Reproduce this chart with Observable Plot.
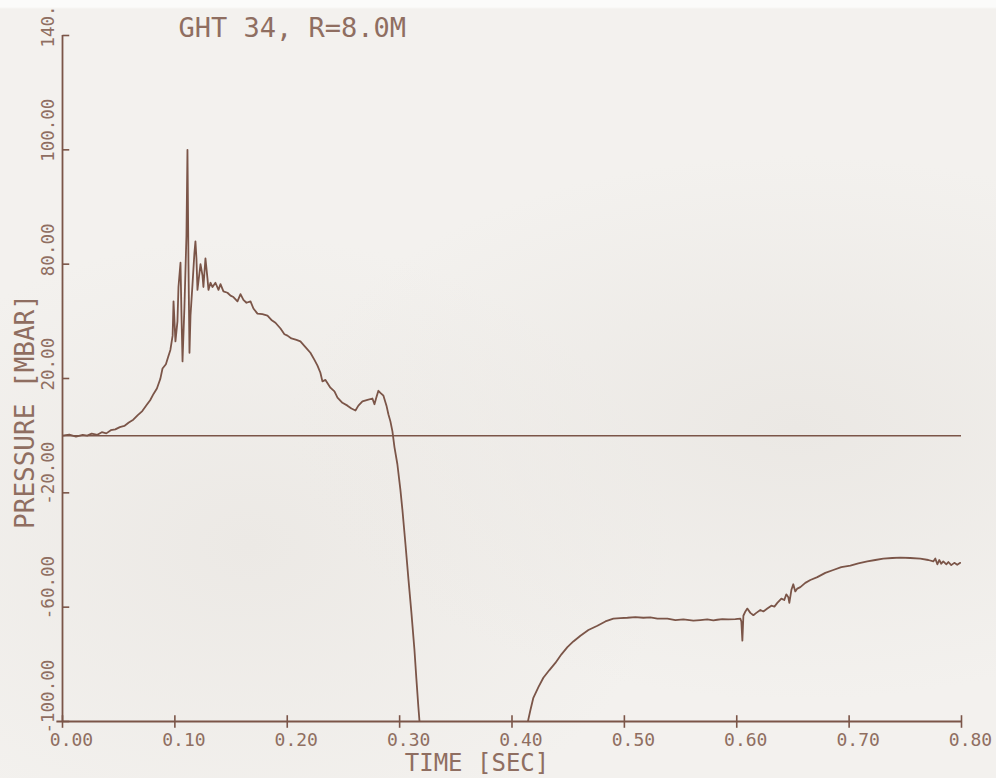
<!DOCTYPE html>
<html>
<head>
<meta charset="utf-8">
<script src="https://cdn.jsdelivr.net/npm/d3@7"></script>
<script src="https://cdn.jsdelivr.net/npm/@observablehq/plot@0.6"></script>
<style>
  html, body { margin: 0; padding: 0; }
  body {
    width: 996px; height: 778px; overflow: hidden;
    background:
      linear-gradient(#fbfbfa 0, #fbfbfa 7px, transparent 9px),
      radial-gradient(ellipse at 80% 55%, #ebe8e4 0%, rgba(235,232,228,0) 45%),
      radial-gradient(ellipse at 25% 70%, #ece9e5 0%, rgba(236,233,229,0) 40%),
      #f3f1ee;
  }
  #chart { position: absolute; left: 0; top: 0; }
</style>
</head>
<body>
<div id="chart"></div>
<script>
// Pressure record, gauge GHT 34 at R = 8.0 m
const title = "GHT 34, R=8.0M";
const xTitle = "TIME [SEC]";
const yTitle = "PRESSURE [MBAR]";

const xTicks = [0, 0.1, 0.2, 0.3, 0.4, 0.5, 0.6, 0.7, 0.8];
const xLabels = ["0.00", "0.10", "0.20", "0.30", "0.40", "0.50", "0.60", "0.70", "0.80"];
const yTicks = [-100, -60, -20, 20, 60, 100, 140];
const yLabels = ["-100.00", "-60.00", "-20.00", "20.00", "80.00", "100.00", "140."];

// time [s]
const timeSec = [
  0.000, 0.006, 0.012, 0.018, 0.022, 0.026, 0.031, 0.035, 0.039, 0.043,
  0.047, 0.051, 0.055, 0.059, 0.063, 0.067, 0.071, 0.075, 0.078, 0.081,
  0.084, 0.087, 0.089, 0.092, 0.094, 0.096, 0.098, 0.0988, 0.1005, 0.1023,
  0.1032, 0.1050, 0.1059, 0.1068, 0.1085, 0.1103, 0.1112, 0.1121, 0.1130, 0.1139,
  0.1157, 0.1174, 0.1183, 0.1192, 0.1201, 0.1219, 0.1228, 0.1246, 0.1254, 0.1272,
  0.1290, 0.1299, 0.1317, 0.1335, 0.1361, 0.1388, 0.1406, 0.1432, 0.1468, 0.1495,
  0.1521, 0.1557, 0.1584, 0.1610, 0.1637, 0.1673, 0.1699, 0.1735, 0.1779, 0.1824,
  0.1859, 0.1895, 0.1940, 0.1975, 0.2002, 0.2037, 0.2082, 0.2117, 0.2162, 0.2206,
  0.2242, 0.2269, 0.2295, 0.2313, 0.2340, 0.2384, 0.2420, 0.2447, 0.2491, 0.2536,
  0.2571, 0.2607, 0.2633, 0.2669, 0.2714, 0.2758, 0.2776, 0.2794, 0.2811, 0.2829,
  0.2856, 0.2883, 0.2900, 0.2918, 0.2936, 0.2954, 0.2980, 0.3007, 0.3025, 0.3052,
  0.3078, 0.3105, 0.3132, 0.3149, 0.3167, 0.3185,
  0.3700,
  0.4110, 0.4137, 0.4164, 0.4190, 0.4235, 0.4279, 0.4333, 0.4386, 0.4440, 0.4493,
  0.4546, 0.4609, 0.4680, 0.4760, 0.4831, 0.4902, 0.4964, 0.5027, 0.5098, 0.5169,
  0.5231, 0.5294, 0.5383, 0.5454, 0.5525, 0.5614, 0.5676, 0.5738, 0.5792, 0.5827,
  0.5872, 0.5925, 0.5988, 0.6032, 0.6041, 0.6050, 0.6059, 0.6077, 0.6094, 0.6121,
  0.6148, 0.6174, 0.6210, 0.6237, 0.6272, 0.6308, 0.6335, 0.6361, 0.6397, 0.6423,
  0.6441, 0.6459, 0.6468, 0.6486, 0.6503, 0.6521, 0.6539, 0.6566, 0.6610, 0.6655,
  0.6717, 0.6788, 0.6859, 0.6930, 0.7011, 0.7082, 0.7162, 0.7233, 0.7304, 0.7384,
  0.7456, 0.7544, 0.7633, 0.7705, 0.7749, 0.7767, 0.7785, 0.7802, 0.7820, 0.7838,
  0.7865, 0.7883, 0.7909, 0.7936, 0.7962, 0.7989
];

// pressure [mbar]; NaN marks the stretch where the pen ran off the chart
const pressureMbar = [
  0.0, 0.4, -0.3, 0.3, 0.0, 0.7, 0.3, 1.2, 0.8, 1.9,
  2.2, 3.0, 3.4, 4.6, 5.6, 7.2, 8.6, 10.8, 12.4, 14.6,
  16.5, 19.8, 23.5, 25.0, 27.5, 30.0, 35.0, 47.0, 33.0, 40.0,
  52.0, 60.5, 42.0, 26.0, 45.0, 70.0, 100.0, 60.0, 29.0, 42.0,
  53.0, 64.0, 68.0, 62.0, 51.0, 57.0, 60.0, 56.0, 52.0, 62.0,
  55.0, 51.0, 53.5, 52.0, 53.5, 51.0, 53.0, 50.5, 50.0, 49.0,
  48.5, 47.0, 49.5, 47.5, 46.5, 47.0, 44.5, 42.7, 42.5, 42.0,
  40.5, 39.5, 37.5, 35.5, 35.0, 34.0, 33.5, 33.0, 31.0, 29.0,
  26.5, 24.5, 22.0, 19.0, 19.5, 16.8, 15.5, 13.3, 11.5, 10.5,
  9.5, 8.8, 10.5, 12.0, 12.5, 13.0, 11.0, 13.5, 15.7, 15.0,
  14.0, 10.5, 7.5, 5.0, 1.5, -4.0, -10.0, -19.0, -26.0, -38.0,
  -50.0, -62.0, -75.0, -85.0, -95.0, -104.0,
  NaN,
  -104.0, -100.8, -96.0, -91.7, -88.0, -84.7, -82.0, -79.5, -76.5, -74.0,
  -72.0, -70.0, -68.0, -66.5, -65.0, -64.0, -63.8, -63.7, -63.5, -63.7,
  -63.6, -64.0, -64.0, -64.5, -64.3, -64.7, -64.5, -64.3, -64.6, -64.4,
  -64.2, -64.3, -64.2, -64.0, -65.0, -71.7, -63.0, -61.5, -60.5, -62.0,
  -62.8, -62.0, -61.0, -61.5, -60.5, -59.5, -59.8, -58.5, -57.0, -57.5,
  -55.5, -56.5, -58.5, -54.0, -52.0, -54.5, -53.5, -53.0, -51.5, -50.5,
  -49.5, -48.0, -47.0, -46.0, -45.5, -44.7, -44.0, -43.5, -43.0, -42.8,
  -42.7, -42.8, -43.0, -43.5, -44.0, -43.0, -45.0, -43.5, -44.8, -44.0,
  -45.0, -44.2, -45.3, -44.5, -45.2, -44.5
];

const record = timeSec.map((t, i) => ({t, p: pressureMbar[i]}));

const ink = "#7b5548";
const textInk = "#8f6e61";
const font = "'DejaVu Sans Mono', 'Liberation Mono', monospace";

const chart = Plot.plot({
  width: 996,
  height: 778,
  marginLeft: 62,
  marginRight: 35,
  marginTop: 35,
  marginBottom: 57,
  x: {domain: [0, 0.8], axis: null},
  y: {domain: [-100, 140], axis: null},
  style: {background: "transparent", fontFamily: font, overflow: "visible"},
  marks: [
    // axes
    Plot.ruleX([0], {stroke: ink, strokeWidth: 1.8}),
    Plot.ruleY([-100], {x1: -0.005, x2: 0.8, stroke: ink, strokeWidth: 1.8}),
    Plot.link(yTicks, {x1: 0, x2: 0.006, y1: d => d, y2: d => d, stroke: ink, strokeWidth: 1.6}),
    Plot.link(xTicks, {x1: d => d, x2: d => d, y1: -102.2, y2: -97.8, stroke: ink, strokeWidth: 1.6}),
    // zero reference
    Plot.ruleY([0], {stroke: ink, strokeWidth: 1.5}),
    // pressure trace
    Plot.line(record, {x: "t", y: "p", stroke: ink, strokeWidth: 1.8, clip: true, curve: "linear"}),
    // tick labels
    Plot.text(xTicks, {
      x: d => d, text: (d, i) => xLabels[i], frameAnchor: "bottom",
      dx: 9, dy: 19, lineAnchor: "middle", fontSize: 18, fill: textInk
    }),
    Plot.text(yTicks, {
      y: d => d, text: (d, i) => yLabels[i], frameAnchor: "left",
      rotate: -90, textAnchor: "start", lineAnchor: "bottom",
      dx: -9, dy: 12, fontSize: 17.5, fill: textInk
    }),
    // titles
    Plot.text([title], {
      text: d => d, frameAnchor: "top-left", textAnchor: "start", lineAnchor: "middle",
      dx: 116, dy: -7, fontSize: 27, fill: textInk
    }),
    Plot.text([xTitle], {
      text: d => d, frameAnchor: "bottom", textAnchor: "middle", lineAnchor: "middle",
      dx: -35, dy: 42, fontSize: 24, fill: textInk
    }),
    Plot.text([yTitle], {
      text: d => d, frameAnchor: "left", rotate: -90, textAnchor: "middle", lineAnchor: "middle",
      dx: -37, dy: 33, fontSize: 26, fill: textInk
    })
  ]
});

document.getElementById("chart").append(chart);
</script>
</body>
</html>
